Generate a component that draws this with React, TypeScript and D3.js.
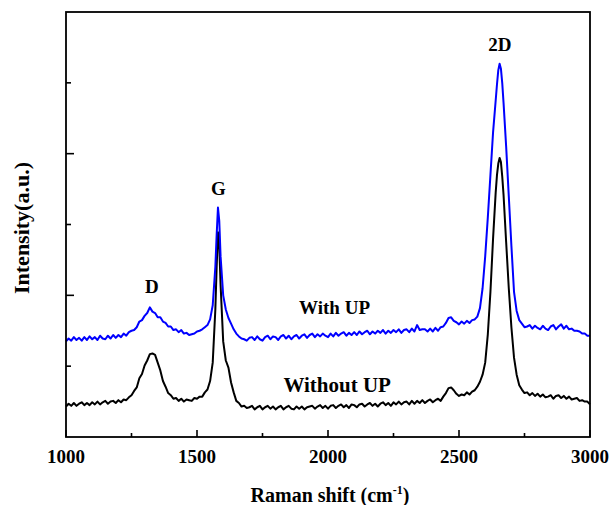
import React from "react";
import * as d3 from "d3";

// Raman shift sampling (cm^-1); finer steps around the G and 2D band maxima
const wavenumbers = [
  1000, 1010, 1020, 1030, 1040, 1050, 1060, 1070, 1080, 1090,
  1100, 1110, 1120, 1130, 1140, 1150, 1160, 1170, 1180, 1190,
  1200, 1210, 1220, 1230, 1240, 1250, 1260, 1270, 1280, 1290,
  1300, 1310, 1320, 1330, 1340, 1350, 1360, 1370, 1380, 1390,
  1400, 1410, 1420, 1430, 1440, 1450, 1460, 1470, 1480, 1490,
  1500, 1510, 1520, 1530, 1540, 1550, 1560, 1570, 1575, 1580, 1585, 1590,
  1600, 1610, 1620, 1630, 1640, 1650, 1660, 1670, 1680, 1690,
  1700, 1710, 1720, 1730, 1740, 1750, 1760, 1770, 1780, 1790,
  1800, 1810, 1820, 1830, 1840, 1850, 1860, 1870, 1880, 1890,
  1900, 1910, 1920, 1930, 1940, 1950, 1960, 1970, 1980, 1990,
  2000, 2010, 2020, 2030, 2040, 2050, 2060, 2070, 2080, 2090,
  2100, 2110, 2120, 2130, 2140, 2150, 2160, 2170, 2180, 2190,
  2200, 2210, 2220, 2230, 2240, 2250, 2260, 2270, 2280, 2290,
  2300, 2310, 2320, 2330, 2340, 2350, 2360, 2370, 2380, 2390,
  2400, 2410, 2420, 2430, 2440, 2450, 2460, 2470, 2480, 2490,
  2500, 2510, 2520, 2530, 2540, 2550, 2560, 2570, 2580, 2590,
  2600, 2610, 2620, 2630, 2640, 2645, 2650, 2655, 2660, 2665, 2670, 2680, 2690,
  2700, 2710, 2720, 2730, 2740, 2750, 2760, 2770, 2780, 2790,
  2800, 2810, 2820, 2830, 2840, 2850, 2860, 2870, 2880, 2890,
  2900, 2910, 2920, 2930, 2940, 2950, 2960, 2970, 2980, 2990,
  3000,
];

// Spectrum without UP (black)
const withoutUP = [
  0.43, 0.47, 0.44, 0.48, 0.44, 0.47, 0.49, 0.45, 0.48, 0.45,
  0.49, 0.46, 0.50, 0.46, 0.49, 0.51, 0.47, 0.50, 0.51, 0.48,
  0.52, 0.49, 0.53, 0.52, 0.56, 0.59, 0.65, 0.70, 0.83, 0.89,
  1.01, 1.08, 1.17, 1.18, 1.16, 1.05, 0.94, 0.79, 0.71, 0.62,
  0.59, 0.54, 0.55, 0.51, 0.54, 0.50, 0.53, 0.52, 0.51, 0.55,
  0.54, 0.57, 0.57, 0.63, 0.67, 0.79, 1.05, 1.80, 2.40, 2.89, 2.70, 2.15,
  1.35, 1.08, 0.98, 0.77, 0.63, 0.51, 0.48, 0.43, 0.44, 0.41,
  0.42, 0.44, 0.39, 0.42, 0.44, 0.39, 0.42, 0.44, 0.40, 0.43,
  0.39, 0.42, 0.44, 0.39, 0.42, 0.44, 0.40, 0.39, 0.43, 0.40,
  0.43, 0.39, 0.42, 0.43, 0.44, 0.40, 0.43, 0.45, 0.41, 0.44,
  0.40, 0.44, 0.45, 0.41, 0.44, 0.46, 0.42, 0.45, 0.41, 0.46,
  0.45, 0.42, 0.46, 0.47, 0.43, 0.46, 0.48, 0.44, 0.47, 0.43,
  0.47, 0.49, 0.45, 0.48, 0.44, 0.49, 0.46, 0.50, 0.46, 0.49,
  0.50, 0.46, 0.51, 0.47, 0.51, 0.48, 0.52, 0.48, 0.51, 0.53,
  0.49, 0.52, 0.54, 0.51, 0.57, 0.62, 0.69, 0.70, 0.66, 0.61,
  0.58, 0.60, 0.59, 0.63, 0.60, 0.64, 0.66, 0.71, 0.78, 0.88,
  1.05, 1.45, 2.05, 2.80, 3.45, 3.70, 3.86, 3.94, 3.88, 3.68, 3.42, 2.75, 2.10,
  1.55, 1.12, 0.88, 0.73, 0.67, 0.62, 0.63, 0.59, 0.62, 0.58,
  0.61, 0.57, 0.60, 0.56, 0.57, 0.59, 0.54, 0.58, 0.59, 0.55,
  0.58, 0.54, 0.57, 0.53, 0.54, 0.55, 0.51, 0.52, 0.50, 0.50,
  0.46,
];

// Spectrum with UP (blue)
const withUP = [
  1.35, 1.39, 1.36, 1.41, 1.37, 1.40, 1.36, 1.41, 1.37, 1.42,
  1.38, 1.41, 1.37, 1.43, 1.39, 1.38, 1.43, 1.39, 1.44, 1.40,
  1.44, 1.41, 1.46, 1.43, 1.48, 1.50, 1.51, 1.55, 1.63, 1.65,
  1.71, 1.75, 1.83, 1.77, 1.75, 1.69, 1.69, 1.63, 1.61, 1.56,
  1.56, 1.51, 1.52, 1.48, 1.51, 1.46, 1.47, 1.44, 1.45, 1.46,
  1.49, 1.50, 1.52, 1.55, 1.58, 1.66, 1.86, 2.40, 2.85, 3.24, 3.05, 2.55,
  2.00, 1.80, 1.68, 1.60, 1.52, 1.46, 1.42, 1.39, 1.38, 1.36,
  1.40, 1.41, 1.37, 1.42, 1.38, 1.36, 1.41, 1.43, 1.38, 1.42,
  1.41, 1.37, 1.42, 1.44, 1.39, 1.43, 1.38, 1.42, 1.44, 1.39,
  1.43, 1.45, 1.40, 1.44, 1.46, 1.41, 1.45, 1.42, 1.46, 1.43,
  1.41, 1.46, 1.42, 1.47, 1.43, 1.46, 1.48, 1.43, 1.47, 1.44,
  1.48, 1.44, 1.49, 1.45, 1.48, 1.50, 1.45, 1.49, 1.46, 1.50,
  1.47, 1.51, 1.46, 1.50, 1.47, 1.51, 1.48, 1.52, 1.47, 1.51,
  1.52, 1.48, 1.53, 1.49, 1.58, 1.51, 1.52, 1.52, 1.49, 1.53,
  1.49, 1.54, 1.50, 1.55, 1.56, 1.61, 1.68, 1.69, 1.64, 1.62,
  1.59, 1.63, 1.60, 1.64, 1.61, 1.65, 1.66, 1.70, 1.82, 2.10,
  2.55, 3.10, 3.70, 4.30, 4.75, 4.98, 5.18, 5.27, 5.20, 5.00, 4.72, 4.10, 3.40,
  2.70, 2.05, 1.78, 1.65, 1.60, 1.55, 1.56, 1.58, 1.53, 1.57,
  1.54, 1.52, 1.57, 1.53, 1.51, 1.56, 1.58, 1.52, 1.56, 1.59,
  1.53, 1.57, 1.52, 1.53, 1.50, 1.50, 1.49, 1.46, 1.46, 1.43,
  1.43,
];

const xTicks = [1000, 1500, 2000, 2500, 3000];
const xMinorTicks = [1250, 1750, 2250, 2750];
const yMajorTicks = [2, 4];
const yMinorTicks = [1, 3, 5];

// Band labels placed above the peaks: [label, wavenumber, intensity]
const bandLabels: [string, number, number][] = [
  ["D", 1328, 2.03],
  ["G", 1582, 3.42],
  ["2D", 2656, 5.45],
];

const seriesLabels: [string, number, number, number][] = [
  ["With UP", 2025, 1.74, 19],
  ["Without UP", 2035, 0.64, 21],
];

const W = 612;
const H = 505;
const margin = { left: 66, right: 22, top: 12, bottom: 68 };
const FONT = "'Liberation Serif', 'Times New Roman', Times, serif";

export default function App() {
  const x = d3
    .scaleLinear()
    .domain([1000, 3000])
    .range([margin.left, W - margin.right]);
  const y = d3
    .scaleLinear()
    .domain([0, 6])
    .range([H - margin.bottom, margin.top]);

  const line = d3
    .line<number>()
    .x((_, i) => x(wavenumbers[i]))
    .y((d) => y(d));

  const x0 = margin.left;
  const x1 = W - margin.right;
  const y0 = H - margin.bottom;
  const y1 = margin.top;

  return (
    <svg
      width={W}
      height={H}
      style={{ position: "absolute", left: 0, top: 0, background: "#fff" }}
      fontFamily={FONT}
      fontWeight="bold"
    >
      <rect x={0} y={0} width={W} height={H} fill="#fff" />

      <path d={line(withoutUP) ?? ""} fill="none" stroke="#000" strokeWidth={2} strokeLinejoin="round" />
      <path d={line(withUP) ?? ""} fill="none" stroke="#0000ff" strokeWidth={2} strokeLinejoin="round" />

      {/* frame */}
      <rect x={x0} y={y1} width={x1 - x0} height={y0 - y1} fill="none" stroke="#000" strokeWidth={1.8} />

      {/* x ticks, pointing inward */}
      {xTicks.map((t) => (
        <line key={`xt${t}`} x1={x(t)} x2={x(t)} y1={y0} y2={y0 - 7} stroke="#000" strokeWidth={1.6} />
      ))}
      {xMinorTicks.map((t) => (
        <line key={`xm${t}`} x1={x(t)} x2={x(t)} y1={y0} y2={y0 - 4} stroke="#000" strokeWidth={1.6} />
      ))}
      {yMajorTicks.map((t) => (
        <line key={`yt${t}`} x1={x0} x2={x0 + 8} y1={y(t)} y2={y(t)} stroke="#000" strokeWidth={1.6} />
      ))}
      {yMinorTicks.map((t) => (
        <line key={`ym${t}`} x1={x0} x2={x0 + 5} y1={y(t)} y2={y(t)} stroke="#000" strokeWidth={1.6} />
      ))}

      {xTicks.map((t) => (
        <text key={`xl${t}`} x={x(t)} y={463} textAnchor="middle" fontSize={19}>
          {t}
        </text>
      ))}

      <text x={330} y={502} textAnchor="middle" fontSize={20}>
        Raman shift (cm
        <tspan dy={-8} fontSize={12}>-1</tspan>
        <tspan dy={8}>)</tspan>
      </text>

      <text
        transform={`translate(29, 228) rotate(-90)`}
        textAnchor="middle"
        fontSize={22}
      >
        Intensity(a.u.)
      </text>

      {bandLabels.map(([label, wn, v]) => (
        <text key={label} x={x(wn)} y={y(v)} textAnchor="middle" fontSize={19}>
          {label}
        </text>
      ))}

      {seriesLabels.map(([label, wn, v, fs]) => (
        <text key={label} x={x(wn)} y={y(v)} textAnchor="middle" fontSize={fs}>
          {label}
        </text>
      ))}
    </svg>
  );
}
